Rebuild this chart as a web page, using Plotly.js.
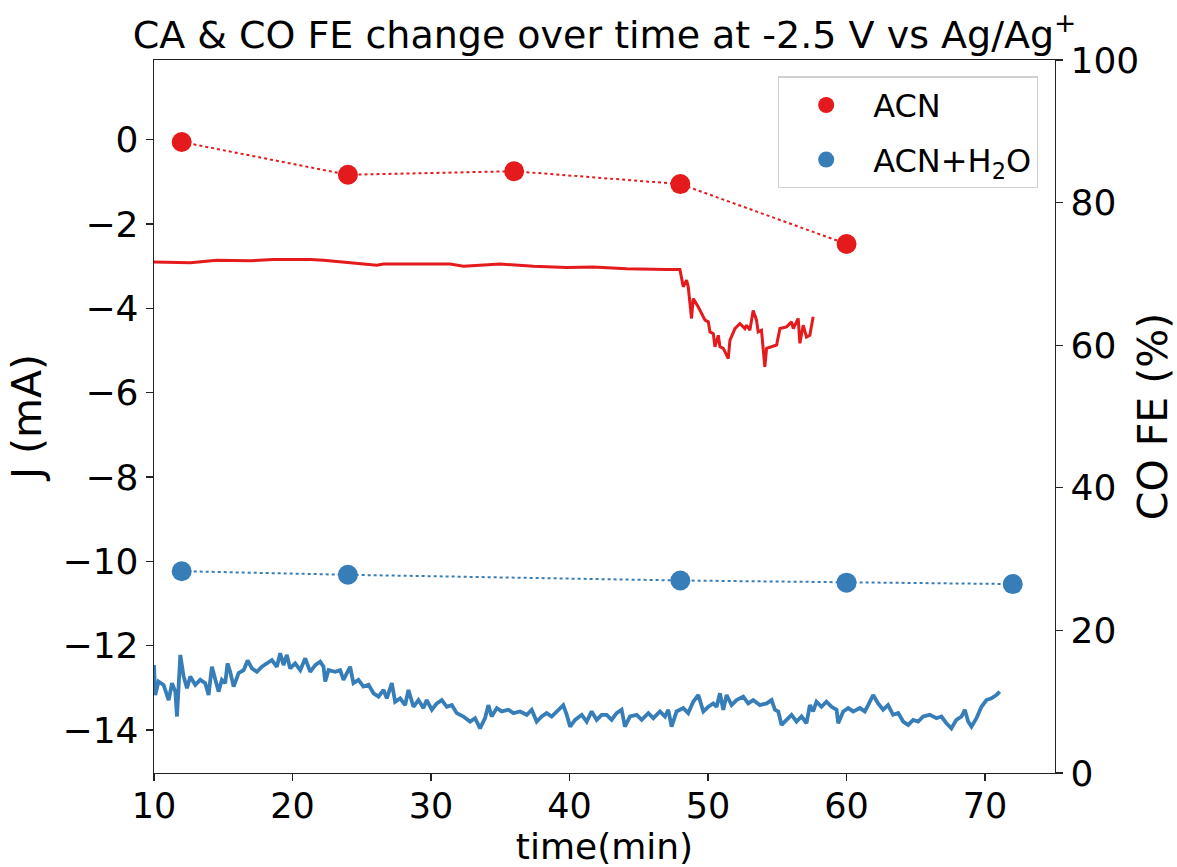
<!DOCTYPE html>
<html>
<head>
<meta charset="utf-8">
<script src="https://cdn.plot.ly/plotly-3.0.1.min.js"></script>
<style>
html,body{margin:0;padding:0;background:#fff;}
#chart{width:1177px;height:867px;}
</style>
</head>
<body>
<div id="chart"></div>
<script>
// FE measurement times (min) and CO faradaic efficiency (%)
const feTimeACN = [12, 24, 36, 48, 60];
const feACN = [88.5, 83.9, 84.4, 82.6, 74.2];
const feTimeH2O = [12, 24, 48, 60, 72];
const feH2O = [28.3, 27.8, 27.0, 26.7, 26.5];

// Chronoamperometry, ACN (time in min, J in mA)
const caTimeACN = [10.0, 12.62, 14.54, 16.95, 18.63, 21.28, 22.24, 24.16, 26.09, 26.57, 28.97, 31.38, 32.34, 34.98, 37.39, 39.80, 41.72, 44.13, 47.01, 47.97,
  48.21, 48.45, 48.57, 48.81, 48.93, 49.30, 49.78, 50.02, 50.14, 50.38, 50.50, 50.74, 50.86, 51.10, 51.46, 51.58, 51.94, 52.30, 52.66, 52.78,
  53.02, 53.26, 53.50, 53.62, 53.86, 53.98, 54.10, 54.23, 54.59, 54.95, 55.19, 55.67, 56.03, 56.15, 56.51, 56.63, 56.87, 57.11, 57.35, 57.59];
const caJACN = [-2.90, -2.92, -2.86, -2.87, -2.84, -2.84, -2.86, -2.92, -2.98, -2.95, -2.95, -2.95, -3.00, -2.95, -3.00, -3.03, -3.02, -3.06, -3.08, -3.08,
  -3.49, -3.33, -3.49, -4.24, -3.77, -3.97, -4.28, -4.32, -4.56, -4.60, -4.91, -4.64, -4.91, -4.95, -5.19, -4.76, -4.48, -4.36, -4.48, -4.40,
  -4.52, -4.05, -4.28, -4.56, -4.52, -4.99, -5.39, -4.95, -4.91, -4.87, -4.48, -4.44, -4.32, -4.48, -4.24, -4.83, -4.40, -4.68, -4.64, -4.20];

// Chronoamperometry, ACN+H2O
const caTimeH2O = [10.00, 10.09, 10.33, 10.69, 11.06, 11.30, 11.54, 11.66, 11.90, 12.14, 12.38, 12.62, 12.98, 13.34, 13.70, 13.94, 14.18, 14.42, 14.66, 14.90,
  15.14, 15.31, 15.50, 15.75, 16.11, 16.47, 16.76, 17.07, 17.43, 17.79, 18.15, 18.51, 18.87, 19.11, 19.35, 19.59, 19.83, 20.19, 20.56, 20.92,
  21.28, 21.64, 22.00, 22.24, 22.36, 22.60, 23.08, 23.44, 23.68, 24.16, 24.40, 24.76, 25.12, 25.49, 25.85, 26.21, 26.57, 26.81, 27.17, 27.41,
  27.77, 28.13, 28.37, 28.73, 29.09, 29.45, 29.69, 30.06, 30.42, 30.78, 31.14, 31.50, 31.86, 32.34, 32.82, 33.18, 33.54, 33.90, 34.14, 34.38,
  34.75, 35.11, 35.59, 35.95, 36.43, 36.91, 37.27, 37.63, 37.99, 38.35, 38.71, 39.07, 39.55, 39.80, 40.04, 40.40, 40.88, 41.24, 41.60, 41.96,
  42.32, 42.68, 43.04, 43.40, 43.76, 44.00, 44.37, 44.85, 45.21, 45.69, 46.05, 46.53, 46.89, 47.13, 47.37, 47.73, 48.21, 48.57, 48.93, 49.30,
  49.66, 50.02, 50.38, 50.62, 50.86, 51.10, 51.34, 51.70, 52.06, 52.54, 52.90, 53.26, 53.74, 54.23, 54.59, 54.83, 55.07, 55.31, 55.67, 56.03,
  56.39, 56.75, 57.11, 57.35, 57.59, 57.83, 58.19, 58.55, 58.92, 59.28, 59.40, 59.76, 60.12, 60.48, 60.96, 61.32, 61.56, 61.92, 62.28, 62.64,
  63.00, 63.36, 63.73, 64.09, 64.45, 64.81, 65.17, 65.53, 66.01, 66.49, 66.85, 67.21, 67.57, 67.93, 68.30, 68.54, 68.78, 69.02, 69.38, 69.74,
  70.10, 70.46, 70.82, 71.06];
const caJH2O = [-12.46, -13.17, -12.85, -12.93, -13.29, -12.89, -13.09, -13.68, -12.22, -12.73, -13.01, -12.73, -12.93, -12.81, -12.89, -13.17, -12.50, -12.77, -13.09, -12.81,
  -12.89, -12.42, -12.62, -12.97, -12.65, -12.58, -12.35, -12.54, -12.62, -12.50, -12.42, -12.34, -12.50, -12.18, -12.46, -12.22, -12.54, -12.42, -12.58, -12.30,
  -12.62, -12.46, -12.38, -12.50, -12.85, -12.58, -12.62, -12.58, -12.81, -12.50, -12.89, -12.81, -12.97, -12.93, -13.13, -13.21, -13.05, -13.25, -12.89, -13.33,
  -13.25, -13.41, -13.05, -13.45, -13.29, -13.48, -13.29, -13.52, -13.37, -13.29, -13.45, -13.41, -13.60, -13.68, -13.80, -13.72, -13.96, -13.72, -13.41, -13.68,
  -13.48, -13.56, -13.52, -13.60, -13.56, -13.64, -13.52, -13.80, -13.68, -13.60, -13.68, -13.56, -13.41, -13.64, -13.92, -13.76, -13.64, -13.80, -13.56, -13.76,
  -13.64, -13.64, -13.76, -13.60, -13.52, -13.92, -13.68, -13.64, -13.76, -13.60, -13.72, -13.56, -13.68, -13.52, -13.92, -13.56, -13.48, -13.60, -13.33, -13.17,
  -13.56, -13.45, -13.37, -13.45, -13.13, -13.52, -13.17, -13.41, -13.29, -13.21, -13.37, -13.29, -13.41, -13.37, -13.29, -13.52, -13.56, -13.88, -13.76, -13.64,
  -13.80, -13.68, -13.84, -13.41, -13.56, -13.33, -13.45, -13.33, -13.45, -13.52, -13.84, -13.56, -13.48, -13.56, -13.48, -13.56, -13.41, -13.17, -13.37, -13.52,
  -13.41, -13.64, -13.60, -13.80, -13.88, -13.76, -13.80, -13.68, -13.64, -13.72, -13.68, -13.84, -13.96, -13.76, -13.68, -13.52, -13.80, -13.92, -13.72, -13.45,
  -13.29, -13.25, -13.17, -13.09];

const seriesNames = ['ACN', 'ACN+H<sub>2</sub>O'];
const red = '#e41a1c';
const blue = '#377eb8';
const FONT = 'DejaVu Sans, sans-serif';

const traces = [
  {x: caTimeACN, y: caJACN, type: 'scatter', mode: 'lines', line: {color: red, width: 3}, showlegend: false, yaxis: 'y', hoverinfo: 'skip'},
  {x: caTimeH2O, y: caJH2O, type: 'scatter', mode: 'lines', line: {color: blue, width: 3.8}, showlegend: false, yaxis: 'y', hoverinfo: 'skip'},
  {x: feTimeACN, y: feACN, type: 'scatter', mode: 'lines', line: {color: red, width: 2, dash: 'dot'}, showlegend: false, yaxis: 'y2'},
  {x: feTimeH2O, y: feH2O, type: 'scatter', mode: 'lines', line: {color: blue, width: 2, dash: 'dot'}, showlegend: false, yaxis: 'y2'},
  {x: feTimeACN, y: feACN, type: 'scatter', mode: 'markers', name: seriesNames[0], legendgroup: 'a', marker: {color: red, size: 20}, yaxis: 'y2'},
  {x: feTimeH2O, y: feH2O, type: 'scatter', mode: 'markers', name: seriesNames[1], legendgroup: 'b', marker: {color: blue, size: 20}, yaxis: 'y2'}
];

const axisCommon = {
  showgrid: false, zeroline: false, showline: true, linecolor: '#222', linewidth: 1.3,
  ticks: 'outside', ticklen: 7, tickwidth: 1.3, tickcolor: '#222',
  tickfont: {family: FONT, size: 36, color: '#000'}
};

const layout = {
  width: 1177, height: 867,
  margin: {l: 154, r: 122, t: 60, b: 94, pad: 0},
  paper_bgcolor: '#fff', plot_bgcolor: '#fff',
  font: {family: FONT, color: '#000'},
  title: {text: 'CA &amp; CO FE change over time at -2.5 V vs Ag/Ag<sup>+</sup>', font: {family: FONT, size: 38, color: '#000'},
          x: 0.5, xref: 'paper', xanchor: 'center', y: 1, yref: 'paper', yanchor: 'bottom', pad: {b: 12}},
  xaxis: Object.assign({}, axisCommon, {range: [10, 75.05], dtick: 10, tick0: 10, mirror: true,
          tickfont: {family: FONT, size: 35, color: '#000'}, ticklabelstandoff: -5,
          title: {text: 'time(min)', font: {family: FONT, size: 36}, standoff: 4}}),
  yaxis: Object.assign({}, axisCommon, {range: [-15.02, 1.89], dtick: 2, tick0: 0,
          title: {text: 'J (mA)', font: {family: FONT, size: 41}, standoff: 8}}),
  yaxis2: Object.assign({}, axisCommon, {overlaying: 'y', side: 'right', range: [0, 100], dtick: 20, tick0: 0,
          title: {text: 'CO FE (%)', font: {family: FONT, size: 41}, standoff: 15}}),
  legend: {x: 0.981, xanchor: 'right', y: 0.977, yanchor: 'top', bgcolor: 'rgba(255,255,255,0.85)',
           bordercolor: '#d0d0d0', borderwidth: 1.3, font: {family: FONT, size: 32}, itemwidth: 84,
           tracegroupgap: 10},
  showlegend: true
};

Plotly.newPlot('chart', traces, layout, {staticPlot: true, displayModeBar: false});
</script>
</body>
</html>
